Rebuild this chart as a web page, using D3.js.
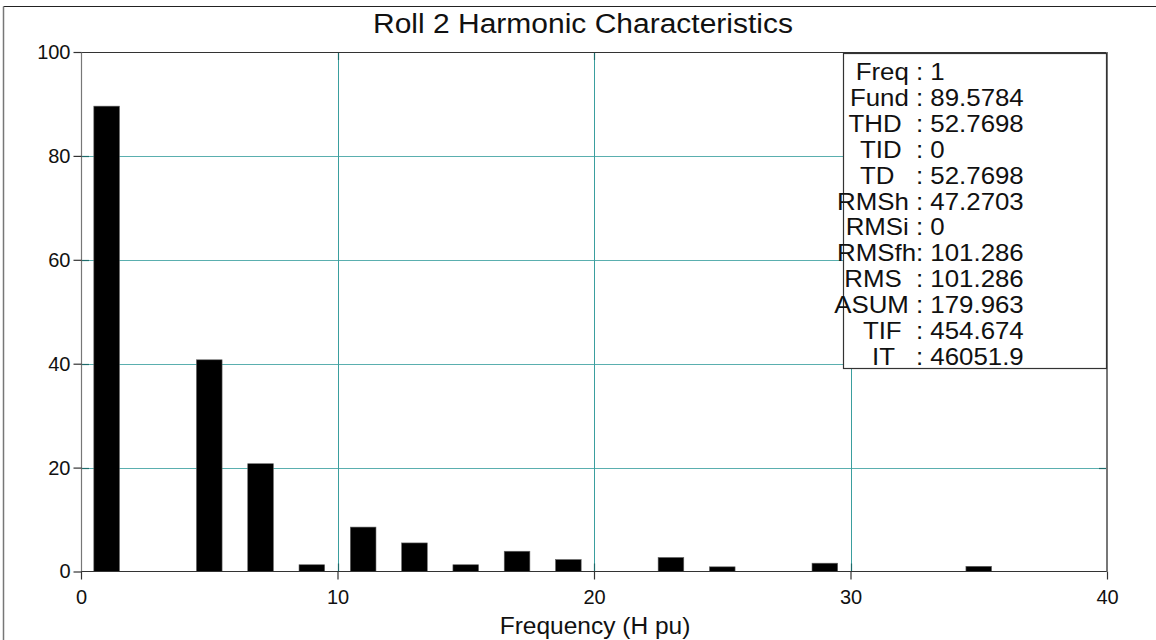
<!DOCTYPE html>
<html>
<head>
<meta charset="utf-8">
<script src="https://cdn.jsdelivr.net/npm/d3@7/dist/d3.min.js"></script>
<style>
  html, body { margin: 0; padding: 0; background: #fff; }
  svg { display: block; font-family: "Liberation Sans", Arial, sans-serif; }
</style>
</head>
<body>
<svg id="chart" width="1156" height="640"></svg>
<script>
// Harmonic spectrum (harmonic order in per-unit of fundamental, magnitude)
const harmonics = [1, 5, 7, 9, 11, 13, 15, 17, 19, 23, 25, 29, 35];
const magnitudes = [89.5784, 40.75, 20.75, 1.3, 8.55, 5.5, 1.3, 3.9, 2.3, 2.7, 0.9, 1.6, 1.0];

const xTicks = [0, 10, 20, 30, 40];
const yTicks = [0, 20, 40, 60, 80, 100];

// Summary statistics box
const statLabels = ["Freq ", "Fund ", "THD  ", "TID  ", "TD   ", "RMSh ", "RMSi ", "RMSfh", "RMS  ", "ASUM ", "TIF  ", "IT   "];
const statValues = ["1", "89.5784", "52.7698", "0", "52.7698", "47.2703", "0", "101.286", "101.286", "179.963", "454.674", "46051.9"];

const titleText = "Roll 2 Harmonic Characteristics";
const xLabelText = "Frequency (H pu)";

const svg = d3.select("#chart");
const plot = { left: 81, right: 1107, top: 52, bottom: 571.5 };

const x = d3.scaleLinear().domain([0, 40]).range([plot.left, plot.right]);
const y = d3.scaleLinear().domain([0, 100]).range([plot.bottom, plot.top]);

const gridColor = "#3a9e9e";
const innerTickColor = "#1d6a6a";

// outer frame
svg.append("line").attr("x1", 3.5).attr("x2", 1160).attr("y1", 6.5).attr("y2", 6.5)
  .attr("stroke", "#222").attr("stroke-width", 1.2);
svg.append("line").attr("x1", 3.5).attr("x2", 3.5).attr("y1", 6.5).attr("y2", 645)
  .attr("stroke", "#777").attr("stroke-width", 1.5);

// grid lines
svg.append("g").selectAll("line").data(yTicks.filter(d => d > 0 && d < 100)).join("line")
  .attr("x1", plot.left).attr("x2", plot.right)
  .attr("y1", d => Math.round(y(d)) + 0.5).attr("y2", d => Math.round(y(d)) + 0.5)
  .attr("stroke", "#5aafaf").attr("stroke-width", 1.2);
svg.append("g").selectAll("line").data(xTicks.filter(d => d > 0 && d < 40)).join("line")
  .attr("x1", d => Math.round(x(d)) + 0.5).attr("x2", d => Math.round(x(d)) + 0.5)
  .attr("y1", plot.top).attr("y2", plot.bottom)
  .attr("stroke", gridColor).attr("stroke-width", 1);

// inner ticks on all four sides
const tickLen = 8;
const innerY = yTicks.filter(d => d > 0 && d < 100);
const innerX = xTicks.filter(d => d > 0 && d < 40);
const it = svg.append("g").attr("stroke", innerTickColor).attr("stroke-width", 1.2);
it.selectAll(".l").data(innerY).join("line").attr("class", "l")
  .attr("x1", plot.left).attr("x2", plot.left + tickLen)
  .attr("y1", d => Math.round(y(d)) + 0.5).attr("y2", d => Math.round(y(d)) + 0.5);
it.selectAll(".r").data(innerY).join("line").attr("class", "r")
  .attr("x1", plot.right - tickLen).attr("x2", plot.right)
  .attr("y1", d => Math.round(y(d)) + 0.5).attr("y2", d => Math.round(y(d)) + 0.5);
it.selectAll(".b").data(innerX).join("line").attr("class", "b")
  .attr("x1", d => Math.round(x(d)) + 0.5).attr("x2", d => Math.round(x(d)) + 0.5)
  .attr("y1", plot.bottom - tickLen).attr("y2", plot.bottom);
it.selectAll(".t").data(innerX).join("line").attr("class", "t")
  .attr("x1", d => Math.round(x(d)) + 0.5).attr("x2", d => Math.round(x(d)) + 0.5)
  .attr("y1", plot.top).attr("y2", plot.top + tickLen);

// bars, one harmonic order wide
svg.append("g").selectAll("rect").data(harmonics.map((h, i) => ({ h, v: magnitudes[i] }))).join("rect")
  .attr("x", d => x(d.h - 0.5))
  .attr("width", d => x(d.h + 0.5) - x(d.h - 0.5))
  .attr("y", d => y(d.v))
  .attr("height", d => y(0) - y(d.v))
  .attr("fill", "#000")
  .attr("stroke", "#666").attr("stroke-width", 0.6);

// plot frame
svg.append("line").attr("x1", plot.left).attr("x2", plot.right).attr("y1", plot.top + 0.5).attr("y2", plot.top + 0.5)
  .attr("stroke", "#333").attr("stroke-width", 1.2);
svg.append("line").attr("x1", plot.left).attr("x2", plot.right).attr("y1", plot.bottom).attr("y2", plot.bottom)
  .attr("stroke", "#333").attr("stroke-width", 1.2);
svg.append("line").attr("x1", plot.left + 0.5).attr("x2", plot.left + 0.5).attr("y1", plot.top).attr("y2", plot.bottom)
  .attr("stroke", "#777").attr("stroke-width", 1.2);
svg.append("line").attr("x1", plot.right).attr("x2", plot.right).attr("y1", plot.top).attr("y2", plot.bottom)
  .attr("stroke", "#777").attr("stroke-width", 2);

// y axis
const yAxis = svg.append("g").attr("transform", `translate(${plot.left + 0.5},0)`)
  .call(d3.axisLeft(y).tickValues(yTicks).tickSize(8).tickPadding(3).tickFormat(d3.format("d")));
yAxis.select(".domain").remove();
yAxis.selectAll(".tick line").attr("stroke", "#333").attr("stroke-width", 1.2);
yAxis.selectAll(".tick text").attr("font-size", "20px").attr("fill", "#111")
  .attr("font-family", "'Liberation Sans', Arial, sans-serif");

// x axis
const xAxis = svg.append("g").attr("transform", `translate(0,${plot.bottom})`)
  .call(d3.axisBottom(x).tickValues(xTicks).tickSize(8).tickPadding(10).tickFormat(d3.format("d")));
xAxis.select(".domain").remove();
xAxis.selectAll(".tick line").attr("stroke", "#333").attr("stroke-width", 1.2);
xAxis.selectAll(".tick text").attr("font-size", "20px").attr("fill", "#111")
  .attr("font-family", "'Liberation Sans', Arial, sans-serif");

// title and axis label
svg.append("text").attr("x", 583).attr("y", 33)
  .attr("text-anchor", "middle").attr("font-size", "27px").attr("fill", "#111")
  .attr("textLength", 420).attr("lengthAdjust", "spacingAndGlyphs")
  .text(titleText);
svg.append("text").attr("x", 595).attr("y", 634)
  .attr("text-anchor", "middle").attr("font-size", "24.5px").attr("fill", "#111")
  .text(xLabelText);

// statistics box
const box = { x: 843.5, y: 53.5, w: 263, h: 315 };
svg.append("rect").attr("x", box.x).attr("y", box.y).attr("width", box.w).attr("height", box.h)
  .attr("fill", "#fff").attr("stroke", "#333").attr("stroke-width", 1.2);

const colonX = 916;
const rowY = i => 80 + i * 25.9;
const stats = svg.append("g").attr("font-size", "23.5px").attr("fill", "#111");
stats.selectAll(".lab").data(statLabels).join("text").attr("class", "lab")
  .attr("transform", (d, i) => `translate(${colonX},${rowY(i)}) scale(1.1,1)`)
  .attr("text-anchor", "end").style("white-space", "pre")
  .text(d => d);
stats.selectAll(".val").data(statValues).join("text").attr("class", "val")
  .attr("transform", (d, i) => `translate(${colonX},${rowY(i)}) scale(1.1,1)`)
  .attr("text-anchor", "start").style("white-space", "pre")
  .text(d => ": " + d);
</script>
</body>
</html>
